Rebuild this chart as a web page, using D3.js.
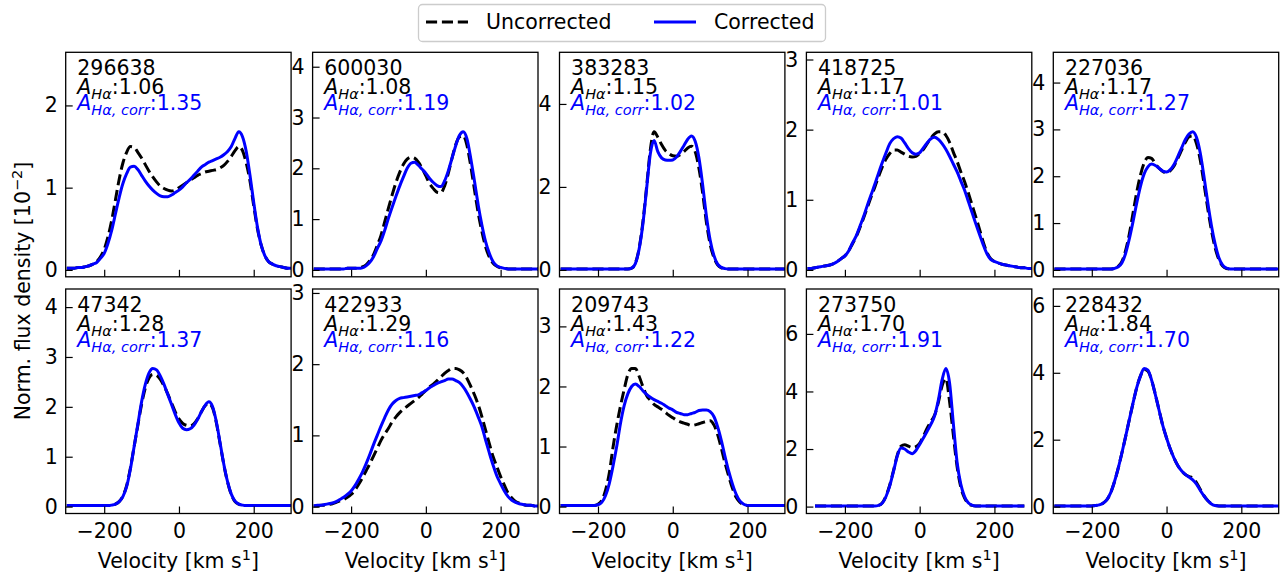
<!DOCTYPE html>
<html>
<head>
<meta charset="utf-8">
<script src="https://cdn.jsdelivr.net/npm/d3@7"></script>
<style>
  body { margin: 0; background: #fff; }
  text { font-family: "DejaVu Sans", sans-serif; }
</style>
</head>
<body>
<svg id="chart" width="1285" height="581"></svg>
<script>
// velocity grid of every profile, km/s
const velocity = d3.range(-300, 301, 10);

const ids = ["296638", "600030", "383283", "418725", "227036",
             "47342", "422933", "209743", "273750", "228432"];
const aHa = ["1.06", "1.08", "1.15", "1.17", "1.17", "1.28", "1.29", "1.43", "1.70", "1.84"];
const aHaCorr = ["1.35", "1.19", "1.02", "1.01", "1.27", "1.37", "1.16", "1.22", "1.91", "1.70"];

// uncorrected profiles (norm. flux density, 1e-2), one row per galaxy
const uncorrected = [
  [0.02,0.02,0.02,0.03,0.03,0.04,0.05,0.07,0.10,0.16,
   0.25,0.40,0.60,0.85,1.10,1.30,1.43,1.50,1.49,1.43,
   1.36,1.28,1.20,1.13,1.07,1.02,0.99,0.97,0.96,0.97,
   1.00,1.03,1.06,1.09,1.12,1.15,1.17,1.19,1.20,1.21,
   1.22,1.24,1.27,1.32,1.38,1.45,1.50,1.45,1.30,1.08,
   0.78,0.50,0.30,0.17,0.10,0.07,0.05,0.04,0.03,0.02,0.02],
  [0.02,0.02,0.02,0.02,0.02,0.02,0.02,0.02,0.02,0.03,
   0.03,0.03,0.04,0.06,0.10,0.18,0.30,0.48,0.68,0.95,
   1.22,1.48,1.72,1.92,2.08,2.18,2.22,2.20,2.12,2.00,
   1.85,1.70,1.60,1.53,1.52,1.65,1.90,2.20,2.47,2.62,
   2.64,2.45,2.05,1.58,1.12,0.75,0.45,0.25,0.13,0.07,
   0.04,0.03,0.02,0.02,0.02,0.02,0.02,0.02,0.02,0.02,0.02],
  [0.02,0.02,0.02,0.02,0.02,0.02,0.02,0.02,0.02,0.02,
   0.02,0.02,0.02,0.02,0.02,0.02,0.02,0.02,0.02,0.04,
   0.16,0.52,1.15,2.00,2.90,3.33,3.20,3.02,2.88,2.80,
   2.75,2.74,2.78,2.85,2.94,2.98,2.85,2.45,1.85,1.15,
   0.62,0.30,0.12,0.05,0.03,0.02,0.02,0.02,0.02,0.02,
   0.02,0.02,0.02,0.02,0.02,0.02,0.02,0.02,0.02,0.02,0.02],
  [0.02,0.02,0.03,0.04,0.05,0.06,0.07,0.09,0.12,0.16,
   0.20,0.27,0.37,0.47,0.60,0.74,0.89,1.04,1.18,1.33,
   1.47,1.58,1.66,1.71,1.71,1.68,1.65,1.62,1.61,1.62,
   1.66,1.72,1.80,1.88,1.94,1.97,1.97,1.92,1.82,1.68,
   1.55,1.40,1.26,1.10,0.93,0.76,0.58,0.40,0.25,0.16,
   0.12,0.10,0.08,0.07,0.06,0.05,0.04,0.03,0.03,0.02,0.02],
  [0.02,0.02,0.02,0.02,0.02,0.02,0.02,0.02,0.02,0.02,
   0.02,0.02,0.02,0.02,0.02,0.02,0.03,0.07,0.17,0.40,
   0.75,1.20,1.65,2.02,2.28,2.40,2.38,2.27,2.17,2.10,
   2.07,2.12,2.22,2.38,2.55,2.72,2.84,2.86,2.70,2.35,
   1.85,1.32,0.85,0.47,0.22,0.08,0.03,0.02,0.02,0.02,
   0.02,0.02,0.02,0.02,0.02,0.02,0.02,0.02,0.02,0.02,0.02],
  [0.02,0.02,0.02,0.02,0.02,0.02,0.02,0.02,0.02,0.02,
   0.02,0.02,0.03,0.05,0.10,0.21,0.42,0.77,1.20,1.63,
   2.05,2.38,2.58,2.65,2.63,2.55,2.42,2.26,2.08,1.90,
   1.76,1.67,1.63,1.62,1.66,1.76,1.90,2.02,2.07,1.98,
   1.68,1.26,0.84,0.49,0.24,0.10,0.05,0.03,0.02,0.02,
   0.02,0.02,0.02,0.02,0.02,0.02,0.02,0.02,0.02,0.02,0.02],
  [0.01,0.01,0.02,0.02,0.03,0.04,0.06,0.08,0.10,0.13,
   0.17,0.23,0.31,0.40,0.50,0.60,0.71,0.82,0.93,1.02,
   1.10,1.19,1.26,1.32,1.37,1.41,1.45,1.49,1.53,1.58,
   1.63,1.68,1.72,1.77,1.82,1.87,1.91,1.94,1.94,1.92,
   1.88,1.80,1.69,1.57,1.43,1.26,1.07,0.88,0.70,0.56,
   0.42,0.30,0.19,0.12,0.07,0.05,0.03,0.02,0.02,0.01,0.01],
  [0.02,0.02,0.02,0.02,0.02,0.02,0.02,0.02,0.02,0.02,
   0.04,0.10,0.27,0.55,0.98,1.35,1.67,1.95,2.20,2.30,
   2.30,2.17,2.00,1.85,1.77,1.70,1.66,1.62,1.57,1.52,
   1.48,1.44,1.41,1.39,1.37,1.35,1.36,1.38,1.40,1.42,
   1.43,1.36,1.20,0.97,0.72,0.50,0.30,0.15,0.07,0.03,
   0.02,0.02,0.02,0.02,0.02,0.02,0.02,0.02,0.02,0.02,0.02],
  [null,null,0.02,0.02,0.02,0.02,0.02,0.02,0.02,0.02,
   0.02,0.02,0.02,0.02,0.02,0.02,0.02,0.02,0.02,0.04,
   0.13,0.37,0.75,1.25,1.78,2.10,2.15,2.10,2.05,2.08,
   2.20,2.45,2.72,2.95,3.18,3.62,4.20,4.45,3.65,2.50,
   1.40,0.68,0.30,0.11,0.04,0.02,0.02,0.02,0.02,0.02,
   0.02,0.02,0.02,0.02,0.02,0.02,0.02,0.02,0.02,null,null],
  [0.02,0.02,0.02,0.02,0.02,0.02,0.02,0.02,0.02,0.02,
   0.02,0.03,0.05,0.10,0.20,0.40,0.72,1.12,1.58,2.07,
   2.58,3.08,3.55,3.90,4.10,4.05,3.78,3.35,2.88,2.42,
   2.05,1.72,1.45,1.23,1.07,0.96,0.90,0.85,0.72,0.52,
   0.33,0.18,0.08,0.03,0.02,0.02,0.02,0.02,0.02,0.02,
   0.02,0.02,0.02,0.02,0.02,0.02,0.02,0.02,0.02,0.02,0.02]
];

// corrected profiles
const corrected = [
  [0.02,0.02,0.02,0.03,0.03,0.04,0.05,0.07,0.09,0.14,
   0.20,0.32,0.48,0.68,0.88,1.05,1.17,1.25,1.26,1.22,
   1.15,1.08,1.02,0.97,0.93,0.90,0.89,0.89,0.91,0.94,
   0.97,1.01,1.06,1.10,1.15,1.20,1.25,1.28,1.31,1.33,
   1.35,1.37,1.40,1.44,1.50,1.60,1.68,1.62,1.44,1.15,
   0.82,0.52,0.30,0.17,0.10,0.07,0.05,0.04,0.03,0.02,0.02],
  [0.02,0.02,0.02,0.02,0.02,0.02,0.02,0.02,0.02,0.03,
   0.03,0.03,0.03,0.04,0.08,0.15,0.26,0.42,0.57,0.78,
   1.02,1.24,1.45,1.65,1.83,2.00,2.10,2.12,2.06,1.98,
   1.90,1.80,1.72,1.66,1.64,1.75,1.95,2.20,2.45,2.65,
   2.72,2.58,2.20,1.75,1.28,0.88,0.55,0.32,0.16,0.08,
   0.05,0.03,0.02,0.02,0.02,0.02,0.02,0.02,0.02,0.02,0.02],
  [0.02,0.02,0.02,0.02,0.02,0.02,0.02,0.02,0.02,0.02,
   0.02,0.02,0.02,0.02,0.02,0.02,0.02,0.02,0.02,0.04,
   0.15,0.50,1.10,1.95,2.80,3.12,2.85,2.70,2.65,2.64,
   2.65,2.72,2.85,3.00,3.15,3.23,3.10,2.70,2.05,1.30,
   0.72,0.35,0.14,0.06,0.03,0.02,0.02,0.02,0.02,0.02,
   0.02,0.02,0.02,0.02,0.02,0.02,0.02,0.02,0.02,0.02,0.02],
  [0.02,0.02,0.03,0.04,0.05,0.06,0.07,0.09,0.12,0.16,
   0.20,0.27,0.38,0.48,0.62,0.76,0.92,1.07,1.22,1.38,
   1.53,1.67,1.80,1.87,1.90,1.88,1.81,1.73,1.67,1.65,
   1.67,1.74,1.81,1.87,1.89,1.86,1.80,1.72,1.62,1.51,
   1.40,1.27,1.14,0.98,0.82,0.66,0.51,0.36,0.23,0.15,
   0.12,0.10,0.08,0.07,0.06,0.05,0.04,0.03,0.03,0.02,0.02],
  [0.02,0.02,0.02,0.02,0.02,0.02,0.02,0.02,0.02,0.02,
   0.02,0.02,0.02,0.02,0.02,0.02,0.03,0.06,0.14,0.34,
   0.65,1.02,1.42,1.78,2.05,2.20,2.26,2.23,2.17,2.11,
   2.09,2.14,2.25,2.42,2.60,2.78,2.90,2.95,2.83,2.50,
   2.00,1.45,0.95,0.55,0.26,0.10,0.04,0.02,0.02,0.02,
   0.02,0.02,0.02,0.02,0.02,0.02,0.02,0.02,0.02,0.02,0.02],
  [0.02,0.02,0.02,0.02,0.02,0.02,0.02,0.02,0.02,0.02,
   0.02,0.02,0.03,0.05,0.10,0.20,0.40,0.75,1.20,1.65,
   2.10,2.45,2.68,2.77,2.74,2.62,2.45,2.25,2.05,1.85,
   1.68,1.57,1.54,1.56,1.63,1.75,1.90,2.03,2.10,2.00,
   1.70,1.28,0.85,0.50,0.25,0.11,0.05,0.03,0.02,0.02,
   0.02,0.02,0.02,0.02,0.02,0.02,0.02,0.02,0.02,0.02,0.02],
  [0.01,0.02,0.02,0.03,0.04,0.05,0.07,0.10,0.13,0.17,
   0.22,0.29,0.38,0.48,0.60,0.73,0.87,1.00,1.13,1.25,
   1.36,1.44,1.49,1.52,1.53,1.54,1.55,1.56,1.57,1.60,
   1.63,1.67,1.70,1.73,1.75,1.77,1.79,1.79,1.77,1.74,
   1.68,1.60,1.50,1.39,1.26,1.12,0.93,0.75,0.58,0.43,
   0.32,0.22,0.14,0.09,0.06,0.04,0.03,0.02,0.02,0.01,0.01],
  [0.02,0.02,0.02,0.02,0.02,0.02,0.02,0.02,0.02,0.02,
   0.03,0.07,0.18,0.38,0.67,1.00,1.38,1.68,1.88,2.00,
   2.04,2.00,1.93,1.87,1.82,1.78,1.75,1.72,1.68,1.64,
   1.61,1.57,1.55,1.53,1.53,1.55,1.57,1.60,1.61,1.61,
   1.58,1.50,1.33,1.10,0.83,0.58,0.37,0.20,0.09,0.04,
   0.02,0.02,0.02,0.02,0.02,0.02,0.02,0.02,0.02,0.02,0.02],
  [null,null,0.02,0.02,0.02,0.02,0.02,0.02,0.02,0.02,
   0.02,0.02,0.02,0.02,0.02,0.02,0.02,0.02,0.02,0.04,
   0.12,0.35,0.72,1.22,1.75,2.04,2.00,1.90,1.84,1.95,
   2.16,2.38,2.62,2.86,3.15,3.70,4.40,4.80,4.30,2.90,
   1.55,0.78,0.35,0.13,0.05,0.02,0.02,0.02,0.02,0.02,
   0.02,0.02,0.02,0.02,0.02,0.02,0.02,0.02,0.02,null,null],
  [0.02,0.02,0.02,0.02,0.02,0.02,0.02,0.02,0.02,0.02,
   0.02,0.03,0.05,0.10,0.20,0.40,0.72,1.12,1.58,2.07,
   2.58,3.08,3.55,3.90,4.13,4.08,3.78,3.35,2.88,2.42,
   2.05,1.72,1.45,1.23,1.07,0.96,0.88,0.80,0.67,0.49,
   0.32,0.18,0.08,0.03,0.02,0.02,0.02,0.02,0.02,0.02,
   0.02,0.02,0.02,0.02,0.02,0.02,0.02,0.02,0.02,0.02,0.02]
];

const xTicks = [-200, 0, 200];
const BLUE = "#0000ff";
const FS = 20.5;

const svg = d3.select("#chart");
const colX0 = 65.7, colStep = 246.9, pw = 225.4, ph = 224.5;
const rowY0 = [52.3, 289];

const fmt = d => d3.format("d")(d).replace("-", "\u2212");

// matplotlib-like tick picking (about 5 bins)
function autoTicks(lo, hi) {
  const raw = (hi - lo) / 5;
  const mag = Math.pow(10, Math.floor(Math.log10(raw)));
  const step = [1, 2, 2.5, 5, 10].find(s => s * mag >= raw - 1e-9) * mag;
  return d3.range(Math.ceil(lo / step) * step, hi + 1e-9, step);
}

ids.forEach((id, i) => {
  const col = i % 5, row = Math.floor(i / 5);
  const g = svg.append("g")
    .attr("transform", `translate(${colX0 + col * colStep},${rowY0[row]})`);

  const x = d3.scaleLinear().domain([-303, 300]).range([0, pw]);
  const ymax = d3.max(uncorrected[i].concat(corrected[i]));
  const y = d3.scaleLinear().domain([-0.05 * ymax, 1.575 * ymax]).range([ph, 0]);

  g.append("clipPath").attr("id", "clip" + i)
    .append("rect").attr("width", pw).attr("height", ph);

  const line = d3.line()
    .defined(d => d[1] != null)
    .x(d => x(d[0]))
    .y(d => y(d[1]))
    .curve(d3.curveMonotoneX);

  const plot = g.append("g").attr("clip-path", `url(#clip${i})`);
  plot.append("path")
    .datum(velocity.map((v, k) => [v, uncorrected[i][k]]))
    .attr("d", line)
    .attr("fill", "none")
    .attr("stroke", "#000")
    .attr("stroke-width", 3)
    .attr("stroke-dasharray", "11.1,4.8");
  plot.append("path")
    .datum(velocity.map((v, k) => [v, corrected[i][k]]))
    .attr("d", line)
    .attr("fill", "none")
    .attr("stroke", BLUE)
    .attr("stroke-width", 3)
    .attr("stroke-linejoin", "round");

  // axes, ticks pointing inwards
  const yAxis = g.append("g")
    .call(d3.axisLeft(y).tickValues(autoTicks(...y.domain()))
      .tickSizeInner(-7).tickSizeOuter(0).tickPadding(8).tickFormat(fmt));
  const xAxis = g.append("g")
    .attr("transform", `translate(0,${ph})`)
    .call(d3.axisBottom(x).tickValues(xTicks)
      .tickSizeInner(-7).tickSizeOuter(0).tickPadding(10)
      .tickFormat(row === 1 ? fmt : () => ""));
  [yAxis, xAxis].forEach(a => {
    a.select(".domain").remove();
    a.attr("font-size", FS).attr("font-family", "DejaVu Sans");
    a.selectAll("line").attr("stroke", "#000").attr("stroke-width", 1.2);
    a.selectAll("text").attr("fill", "#000");
  });

  g.append("rect")
    .attr("width", pw).attr("height", ph)
    .attr("fill", "none").attr("stroke", "#000").attr("stroke-width", 1.3);

  // annotations
  const tx = 11.6;
  g.append("text").attr("x", tx).attr("y", 23).attr("font-size", FS).text(id);

  const t1 = g.append("text").attr("x", tx).attr("y", 42).attr("font-size", FS);
  t1.append("tspan").attr("font-style", "italic").text("A");
  t1.append("tspan").attr("font-style", "italic").attr("font-size", 14.5).attr("dy", 4.5).text("H\u03b1");
  t1.append("tspan").attr("dy", -4.5).text(":" + aHa[i]);

  const t2 = g.append("text").attr("x", tx).attr("y", 58).attr("font-size", FS).attr("fill", BLUE);
  t2.append("tspan").attr("font-style", "italic").text("A");
  t2.append("tspan").attr("font-style", "italic").attr("font-size", 14.5).attr("dy", 4.5).text("H\u03b1, corr");
  t2.append("tspan").attr("dy", -4.5).text(":" + aHaCorr[i]);

  if (row === 1) {
    const xl = g.append("text")
      .attr("x", pw / 2).attr("y", ph + 54)
      .attr("text-anchor", "middle").attr("font-size", FS);
    xl.append("tspan").text("Velocity [km s");
    xl.append("tspan").attr("font-size", 14.5).attr("dy", -8).text("1");
    xl.append("tspan").attr("dy", 8).text("]");
  }
});

// shared y label
const yl = svg.append("text")
  .attr("transform", "translate(29.5,291) rotate(-90)")
  .attr("text-anchor", "middle").attr("font-size", FS);
yl.append("tspan").text("Norm. flux density [10");
yl.append("tspan").attr("font-size", 14.5).attr("dy", -8).text("\u22122");
yl.append("tspan").attr("dy", 8).text("]");

// legend
const lg = svg.append("g");
lg.append("rect")
  .attr("x", 418.5).attr("y", 4.5).attr("width", 407).attr("height", 37).attr("rx", 4)
  .attr("fill", "#fff").attr("stroke", "#cccccc").attr("stroke-width", 1.3);
const legendItems = [
  { label: "Uncorrected", color: "#000", dash: "11.1,4.8", x: 426, tx: 486 },
  { label: "Corrected", color: BLUE, dash: null, x: 654, tx: 714 }
];
legendItems.forEach(d => {
  lg.append("line")
    .attr("x1", d.x).attr("x2", d.x + 42).attr("y1", 22).attr("y2", 22)
    .attr("stroke", d.color).attr("stroke-width", 3)
    .attr("stroke-dasharray", d.dash);
  lg.append("text").attr("x", d.tx).attr("y", 29.3).attr("font-size", FS).text(d.label);
});
</script>
</body>
</html>
